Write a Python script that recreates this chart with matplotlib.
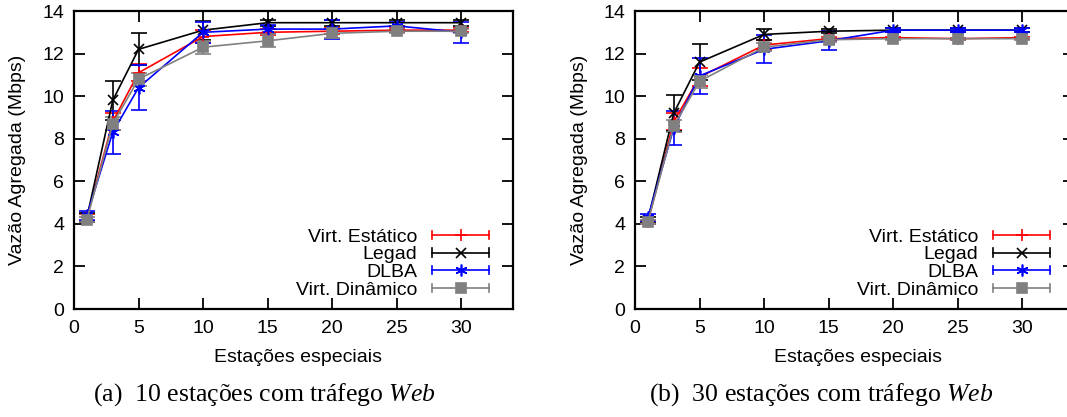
import matplotlib
matplotlib.use('Agg')
import matplotlib.pyplot as plt
from matplotlib.legend_handler import HandlerBase
from matplotlib.lines import Line2D

plt.rcParams['font.family'] = ['Liberation Sans', 'DejaVu Sans']
plt.rcParams['mathtext.fontset'] = 'custom'
plt.rcParams['mathtext.rm'] = 'Liberation Serif'
plt.rcParams['mathtext.it'] = 'Liberation Serif:italic'

# dados
estacoes = [1, 3, 5, 10, 15, 20, 25, 30]
nomes = ['Virt. Estático', 'Legad', 'DLBA', 'Virt. Dinâmico']

# (a) 10 estacoes web
a_estatico = [4.3, 8.8, 11.1, 12.8, 13.0, 13.05, 13.1, 13.1]
a_estatico_err = [0.15, 0.4, 0.4, 0.3, 0.15, 0.15, 0.1, 0.1]
a_legad = [4.3, 9.8, 12.2, 13.1, 13.45, 13.45, 13.45, 13.45]
a_legad_err = [0.2, 0.9, 0.75, 0.45, 0.15, 0.15, 0.15, 0.15]
a_dlba = [4.4, 8.3, 10.4, 13.0, 13.15, 13.15, 13.3, 13.0]
a_dlba_err = [0.2, 1.0, 1.05, 0.5, 0.2, 0.45, 0.2, 0.5]
a_dinamico = [4.2, 8.7, 10.8, 12.3, 12.6, 12.95, 13.05, 13.05]
a_dinamico_err = [0.1, 0.3, 0.3, 0.3, 0.3, 0.2, 0.1, 0.1]

# (b) 30 estacoes web
b_estatico = [4.1, 8.8, 10.9, 12.4, 12.7, 12.75, 12.7, 12.75]
b_estatico_err = [0.1, 0.4, 0.4, 0.25, 0.1, 0.05, 0.05, 0.05]
b_legad = [4.2, 9.2, 11.6, 12.9, 13.05, 13.1, 13.1, 13.1]
b_legad_err = [0.1, 0.85, 0.85, 0.25, 0.1, 0.1, 0.1, 0.1]
b_dlba = [4.3, 8.5, 10.95, 12.2, 12.6, 13.1, 13.1, 13.1]
b_dlba_err = [0.15, 0.8, 0.85, 0.65, 0.45, 0.1, 0.1, 0.1]
b_dinamico = [4.1, 8.6, 10.7, 12.3, 12.65, 12.7, 12.7, 12.7]
b_dinamico_err = [0.1, 0.3, 0.3, 0.2, 0.1, 0.05, 0.05, 0.05]

cores = ['#ff0000', '#000000', '#0000ff', '#808080']
marcadores = ['+', 'x', (6, 2, 0), 's']
tamanhos = [9, 7, 8.5, 7]
FS = 14


class HandlerBarra(HandlerBase):
    # estilo gnuplot: linha horizontal com barras nas pontas
    def create_artists(self, legend, orig, xd, yd, w, h, fontsize, trans):
        c = orig.get_color()
        y = yd + h / 2.0
        cap = h * 0.3
        arts = [
            Line2D([xd, xd + w], [y, y], color=c, lw=1.2),
            Line2D([xd, xd], [y - cap, y + cap], color=c, lw=1.2),
            Line2D([xd + w, xd + w], [y - cap, y + cap], color=c, lw=1.2),
            Line2D([xd + w / 2.0], [y], color=c, marker=orig.get_marker(),
                   markersize=orig.get_markersize(), mew=1.2, lw=0),
        ]
        for a in arts:
            a.set_transform(trans)
        return arts


def painel(ax, series, erros):
    handles = []
    for i in range(4):
        ax.errorbar(estacoes, series[i], yerr=erros[i], color=cores[i],
                    marker=marcadores[i], markersize=tamanhos[i], mew=1.2,
                    lw=1.2, elinewidth=1.2, capsize=6, capthick=1.2)
        handles.append(Line2D([], [], color=cores[i], marker=marcadores[i],
                              markersize=tamanhos[i]))
    ax.set_xlim(0, 34)
    ax.set_ylim(0, 14)
    ax.set_xticks([0, 5, 10, 15, 20, 25, 30])
    ax.set_yticks(range(0, 15, 2))
    ax.tick_params(direction='in', top=True, right=True, length=8, width=1.3,
                   labelsize=FS)
    ax.tick_params(axis='x', pad=8)
    ax.tick_params(axis='y', pad=7)
    for s in ax.spines.values():
        s.set_linewidth(1.6)
    ax.legend(handles, nomes, loc='lower right', bbox_to_anchor=(0.945, 0.035),
              frameon=False, markerfirst=False, fontsize=FS,
              handler_map={Line2D: HandlerBarra()}, handlelength=2.9,
              handletextpad=0.8, labelspacing=0.0, borderpad=0,
              borderaxespad=0)


fig = plt.figure(figsize=(10.67, 4.17), dpi=100)
ax1 = fig.add_axes([74 / 1067, 108 / 417, 439 / 1067, 298 / 417])
ax2 = fig.add_axes([635 / 1067, 108 / 417, 439 / 1067, 298 / 417])

painel(ax1, [a_estatico, a_legad, a_dlba, a_dinamico],
       [a_estatico_err, a_legad_err, a_dlba_err, a_dinamico_err])
painel(ax2, [b_estatico, b_legad, b_dlba, b_dinamico],
       [b_estatico_err, b_legad_err, b_dlba_err, b_dinamico_err])

for xl, xc, cx, cap in [(18, 298, 264, '(a)  10 estações com tráfego $\\mathit{Web}$'),
                        (580, 858, 821, '(b)  30 estações com tráfego $\\mathit{Web}$')]:
    fig.text(xl / 1067, (417 - 160) / 417, 'Vazão Agregada (Mbps)',
             rotation=90, ha='center', va='center', fontsize=FS)
    fig.text(xc / 1067, (417 - 357) / 417, 'Estações especiais',
             ha='center', va='center', fontsize=FS)
    fig.text(cx / 1067, (417 - 395) / 417, cap, ha='center', va='center',
             fontsize=18.5, family='Liberation Serif')

fig.savefig('out.png', dpi=100)
